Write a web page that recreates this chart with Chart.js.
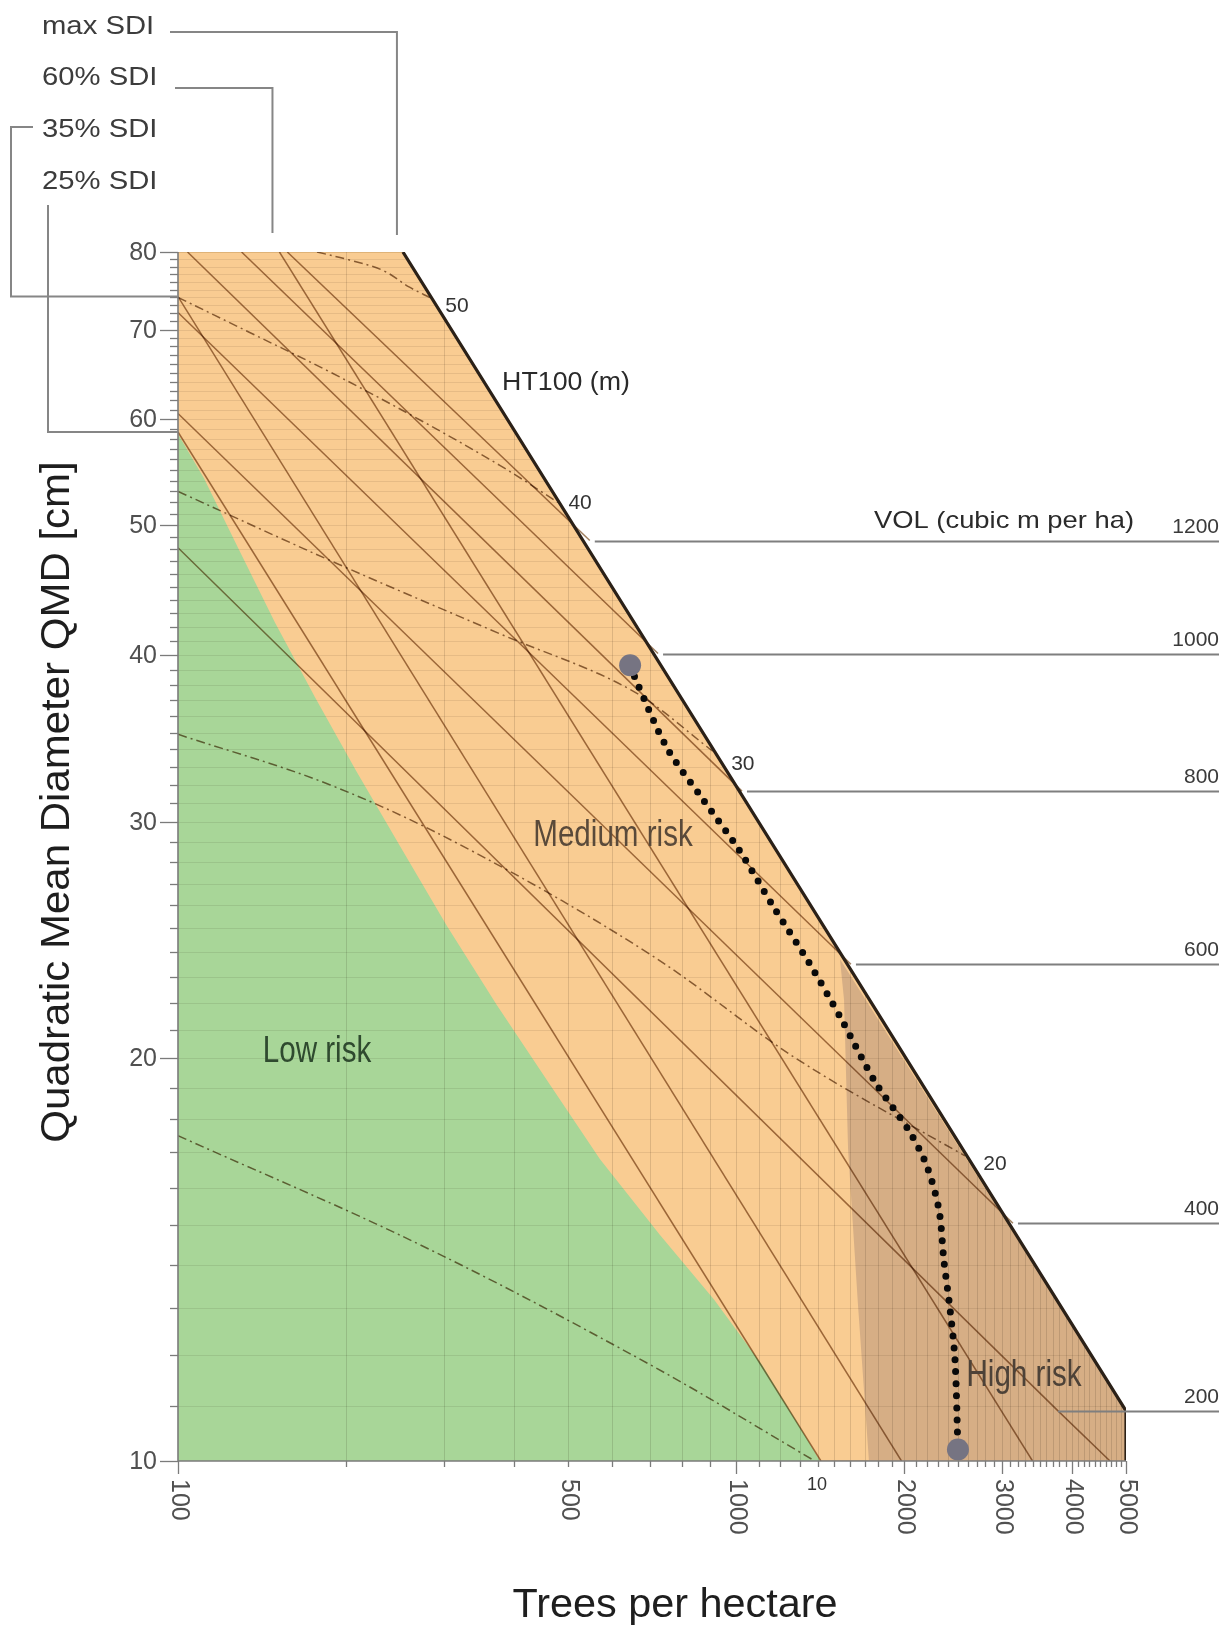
<!DOCTYPE html>
<html>
<head>
<meta charset="utf-8">
<script src="https://cdn.jsdelivr.net/npm/chart.js@4.4.1/dist/chart.umd.min.js"></script>
<style>
  html, body { margin: 0; padding: 0; background: #ffffff; }
  canvas { display: block; }
</style>
</head>
<body>
<canvas id="sdmd" width="1225" height="1638"></canvas>
<script>
// Stand density management diagram: quadratic mean diameter (cm) against
// trees per hectare, both on log scales. Points are [trees/ha, QMD cm].

const xRange = [100, 5000];
const yRange = [10, 80];
const xTickLabels = [100, 500, 1000, 2000, 3000, 4000, 5000];
const yTickLabels = [10, 20, 30, 40, 50, 60, 70, 80];

// Stand density index lines
const sdiMax = [[253, 80], [5000, 10.9], [5000, 10]];
const sdi60 = [[152, 80], [3400, 10]];
const sdi35 = [[100, 74.1], [1980, 10]];
const sdi25 = [[100, 58.7], [1420, 10]];

// Dominant height (HT100, m) isolines
const ht50 = [[177.5, 80], [203, 78.9], [233, 77.5], [260, 75.3], [284, 73.9]];
const ht40 = [[100, 74.0], [135, 69.6], [187, 65.1], [272, 59.9], [378, 55.4], [480, 52.0]];
const ht30 = [[100, 53.0], [193, 46.8], [382, 41.4], [646, 37.7], [909, 33.9]];
const ht20 = [[100, 34.9], [187, 32.0], [334, 28.6], [702, 23.9], [1302, 19.9], [2573, 16.9]];
const ht10 = [[100, 17.5], [272, 14.5], [702, 11.8], [1385, 10]];
const htLabels = ['50', '40', '30', '20', '10'];

// Volume isolines (cubic m per ha)
const vol1200 = [[157, 80], [547, 48.7]];
const vol1000 = [[130, 80], [725, 40.1]];
const vol800 = [[104, 80], [1025, 31.65]];
const vol600 = [[100, 72.1], [1607, 23.5]];
const vol400 = [[100, 60.6], [3136, 15.05]];
const vol200 = [[100, 48.1], [3777, 10.9], [4681, 10]];
const volLabels = [1200, 1000, 800, 600, 400, 200];
const volMeetsMax = [[547, 48.7], [725, 40.1], [1025, 31.65], [1607, 23.5], [3136, 15.05], [3777, 10.9]];

// Risk zones
const mediumRiskArea = [[100, 80], [253, 80], [5000, 10.9], [5000, 10], [100, 10]];
const lowRiskEdge = [[100, 58.5], [111.3, 54.2], [128.1, 48.1], [149.2, 42.3], [176, 37.2], [208.4, 32.8],
  [249.9, 28.8], [303.4, 25.1], [372.9, 21.9], [464.2, 19.1], [570.6, 16.8], [730.8, 14.75],
  [913.2, 13.2], [1113, 11.8], [1302, 10.6], [1414, 10]];
const highRiskEdge = [[1536, 23.7], [1562, 22.1], [1588, 17.1], [1654, 13.1], [1731, 10]];

// Stand development path
const trajectory = [[646, 39.3], [662, 38.3], [752, 34.1], [873, 31.2], [1013, 28.6], [1170, 25.9],
  [1357, 23.5], [1543, 21.4], [1775, 19.2], [2050, 17.6], [2199, 16.6], [2311, 15.4],
  [2359, 14.1], [2418, 13.0], [2469, 11.9], [2499, 10.2]];
const trajectoryEnds = [[646, 39.3], [2499, 10.2]];

const FONT = '"Liberation Sans", Arial, Helvetica, sans-serif';
const pts = arr => arr.map(([x, y]) => ({ x, y }));

const isoLine = (label, arr, dashed) => ({
  label, data: pts(arr), borderColor: dashed ? 'rgb(138,112,84)' : 'rgb(160,128,96)',
  borderWidth: dashed ? 1.5 : 1.5, borderDash: dashed ? [9, 4, 2, 4] : [],
  pointRadius: 0, fill: false, tension: dashed ? 0.35 : 0, order: dashed ? 31 : 30, blend: 'multiply'
});

const datasets = [
  { label: 'Medium risk', data: pts(mediumRiskArea), fill: 'shape', backgroundColor: 'rgb(249,204,146)',
    borderColor: 'rgb(214,170,112)', borderWidth: 1.4, pointRadius: 0, tension: 0, order: 50 },
  { label: 'Low risk', data: pts([...lowRiskEdge, [100, 10]]), fill: 'shape', backgroundColor: 'rgb(168,214,152)',
    borderColor: 'transparent', borderWidth: 0, pointRadius: 0, tension: 0, order: 49 },
  { label: 'High risk', data: pts([...highRiskEdge, [5000, 10], [5000, 10.9]]), fill: 'shape',
    backgroundColor: 'rgb(214,174,133)', borderColor: 'transparent', borderWidth: 0, pointRadius: 0,
    tension: 0, order: 48, gridAfter: true },
  isoLine('60% SDI', sdi60, false),
  isoLine('35% SDI', sdi35, false),
  isoLine('25% SDI', sdi25, false),
  isoLine('VOL 1200', vol1200, false),
  isoLine('VOL 1000', vol1000, false),
  isoLine('VOL 800', vol800, false),
  isoLine('VOL 600', vol600, false),
  isoLine('VOL 400', vol400, false),
  isoLine('VOL 200', vol200, false),
  isoLine('HT 50', ht50, true),
  isoLine('HT 40', ht40, true),
  isoLine('HT 30', ht30, true),
  isoLine('HT 20', ht20, true),
  isoLine('HT 10', ht10, true),
  { label: 'max SDI', data: pts(sdiMax), borderColor: '#2b2118', borderWidth: 3.2, pointRadius: 0,
    fill: false, tension: 0, order: 10, borderJoinStyle: 'miter' },
  { label: 'Stand trajectory', data: pts(trajectory), borderColor: '#0a0a0a', borderWidth: 7,
    borderDash: [0, 12], borderCapStyle: 'round', pointRadius: 0, fill: false, tension: 0.3, order: 5 },
  { label: 'Stand start / end', data: pts(trajectoryEnds), showLine: false, pointRadius: 11,
    pointBackgroundColor: 'rgb(118,116,130)', pointBorderWidth: 0, order: 2 }
];

function text(ctx, s, x, y, o) {
  ctx.save();
  ctx.translate(x, y);
  if (o.rot) ctx.rotate(o.rot);
  ctx.scale(o.sx || 1, 1);
  ctx.font = o.font;
  ctx.fillStyle = o.color || '#333';
  ctx.textAlign = o.align || 'left';
  ctx.textBaseline = o.baseline || 'middle';
  ctx.fillText(s, 0, 0);
  ctx.restore();
}

function drawGrid(chart) {
  const { ctx, chartArea: a, scales: { x, y } } = chart;
  ctx.save();
  ctx.beginPath();
  mediumRiskArea.forEach(([n, d], i) => {
    const px = x.getPixelForValue(n), py = y.getPixelForValue(d);
    if (i) ctx.lineTo(px, py); else ctx.moveTo(px, py);
  });
  ctx.closePath();
  ctx.clip();
  ctx.globalCompositeOperation = 'multiply';
  ctx.lineWidth = 1;
  ctx.strokeStyle = 'rgb(236,234,232)';
  for (let d = 11; d < 80; d++) {
    const py = Math.round(y.getPixelForValue(d)) + 0.5;
    ctx.beginPath(); ctx.moveTo(a.left, py); ctx.lineTo(a.right, py); ctx.stroke();
  }
  ctx.strokeStyle = 'rgb(226,224,222)';
  for (let n = 200; n < 5000; n += 100) {
    const px = Math.round(x.getPixelForValue(n)) + 0.5;
    ctx.beginPath(); ctx.moveTo(px, a.top); ctx.lineTo(px, a.bottom); ctx.stroke();
  }
  ctx.restore();
}

function drawFrame(chart) {
  const { ctx, chartArea: a, scales: { x, y } } = chart;
  const X = v => x.getPixelForValue(v), Y = v => y.getPixelForValue(v);
  ctx.save();

  // axis lines and ticks
  ctx.strokeStyle = '#7b7b7b';
  ctx.lineWidth = 1.6;
  ctx.beginPath(); ctx.moveTo(a.left, a.top); ctx.lineTo(a.left, a.bottom); ctx.lineTo(a.right, a.bottom); ctx.stroke();
  ctx.lineWidth = 1.3;
  for (let d = yRange[0]; d <= yRange[1]; d++) {
    const py = Math.round(Y(d)) + 0.5, len = d % 10 === 0 ? 18 : 8;
    ctx.beginPath(); ctx.moveTo(a.left - len, py); ctx.lineTo(a.left, py); ctx.stroke();
  }
  for (let n = xRange[0]; n <= xRange[1]; n += 100) {
    const px = Math.round(X(n)) + 0.5, len = (n === 100 || n % 1000 === 0) ? 13 : 6;
    ctx.beginPath(); ctx.moveTo(px, a.bottom); ctx.lineTo(px, a.bottom + len); ctx.stroke();
  }
  const tickFont = '25px ' + FONT;
  yTickLabels.forEach(v => text(ctx, String(v), a.left - 21, Y(v) + 1, { font: tickFont, color: '#505050', align: 'right' }));
  xTickLabels.forEach(v => text(ctx, String(v), X(v) + 1, a.bottom + 18, { font: tickFont, color: '#505050', rot: Math.PI / 2 }));

  // axis titles
  text(ctx, 'Quadratic Mean Diameter QMD [cm]', 58, 802, { font: '40px ' + FONT, color: '#1e1e1e', align: 'center', rot: -Math.PI / 2, sx: 1.05 });
  text(ctx, 'Trees per hectare', 675, 1606, { font: '40px ' + FONT, color: '#1e1e1e', align: 'center', sx: 1.035 });

  // SDI labels with leader lines
  const sdiFont = '25px ' + FONT;
  text(ctx, 'max SDI', 42, 27, { font: sdiFont, color: '#3c3c3c', sx: 1.17 });
  text(ctx, '60% SDI', 42, 78, { font: sdiFont, color: '#3c3c3c', sx: 1.17 });
  text(ctx, '35% SDI', 42, 130, { font: sdiFont, color: '#3c3c3c', sx: 1.17 });
  text(ctx, '25% SDI', 42, 182, { font: sdiFont, color: '#3c3c3c', sx: 1.17 });
  ctx.strokeStyle = '#868686';
  ctx.lineWidth = 2;
  const xMax = X(sdiMax[0][0]) - 6, x60 = X(sdi60[0][0]) - 7;
  ctx.beginPath();
  ctx.moveTo(170, 32); ctx.lineTo(xMax, 32); ctx.lineTo(xMax, 235);
  ctx.moveTo(175, 88); ctx.lineTo(x60, 88); ctx.lineTo(x60, 233);
  ctx.moveTo(33, 127); ctx.lineTo(11, 127); ctx.lineTo(11, Y(sdi35[0][1])); ctx.lineTo(a.left, Y(sdi35[0][1]));
  ctx.moveTo(48, 205); ctx.lineTo(48, Y(sdi25[0][1])); ctx.lineTo(a.left, Y(sdi25[0][1]));
  ctx.stroke();

  // dominant height labels along the max SDI line
  const htEnds = [ht50, ht40, ht30, ht20, ht10].map(l => l[l.length - 1]);
  const htOffsets = [[26, 8], [22, 1], [30, 13], [30, 8], [2, 24]];
  htLabels.forEach((s, i) => {
    const [n, d] = htEnds[i];
    text(ctx, s, X(n) + htOffsets[i][0], Y(d) + htOffsets[i][1], {
      font: (i === 4 ? '18px ' : '21px ') + FONT, color: '#333', align: 'center' });
  });
  text(ctx, 'HT100 (m)', 566, 383, { font: '25px ' + FONT, color: '#2a2a2a', align: 'center', sx: 1.07 });

  // volume labels with leader lines to the right margin
  ctx.strokeStyle = '#7f7f7f';
  ctx.lineWidth = 2;
  volMeetsMax.forEach(([n, d], i) => {
    const py = Math.round(Y(d)) + 0.5;
    ctx.beginPath(); ctx.moveTo(X(n) + (i === 5 ? 0 : 5), py); ctx.lineTo(1219, py); ctx.stroke();
    text(ctx, String(volLabels[i]), 1219, py - 14, { font: '21px ' + FONT, color: '#3a3a3a', align: 'right' });
  });
  text(ctx, 'VOL (cubic m per ha)', 1134, 521, { font: '24px ' + FONT, color: '#2a2a2a', align: 'right', sx: 1.14 });

  // risk zone names
  const zoneFont = '37px ' + FONT;
  text(ctx, 'Low risk', 317, 1052, { font: zoneFont, color: '#2f4a2f', align: 'center', sx: 0.8 });
  text(ctx, 'Medium risk', 613, 836, { font: zoneFont, color: '#5a4a3a', align: 'center', sx: 0.8 });
  text(ctx, 'High risk', 1024, 1376, { font: zoneFont, color: '#4d4238', align: 'center', sx: 0.8 });

  ctx.restore();
}

const diagramPlugin = {
  id: 'diagram',
  beforeDatasetDraw(chart, args) {
    const ds = chart.data.datasets[args.index];
    if (ds.blend) { chart.ctx.save(); chart.ctx.globalCompositeOperation = ds.blend; }
  },
  afterDatasetDraw(chart, args) {
    const ds = chart.data.datasets[args.index];
    if (ds.blend) chart.ctx.restore();
    if (ds.gridAfter) drawGrid(chart);
  },
  afterDraw(chart) { drawFrame(chart); }
};

new Chart(document.getElementById('sdmd'), {
  type: 'line',
  data: { datasets },
  options: {
    responsive: false,
    animation: false,
    devicePixelRatio: 1,
    layout: { padding: { left: 178, top: 252, right: 99, bottom: 177 } },
    scales: {
      x: { type: 'logarithmic', min: xRange[0], max: xRange[1], display: false },
      y: { type: 'logarithmic', min: yRange[0], max: yRange[1], display: false }
    },
    plugins: { legend: { display: false }, tooltip: { enabled: false } },
    elements: { point: { radius: 0 } }
  },
  plugins: [diagramPlugin]
});
</script>
</body>
</html>
